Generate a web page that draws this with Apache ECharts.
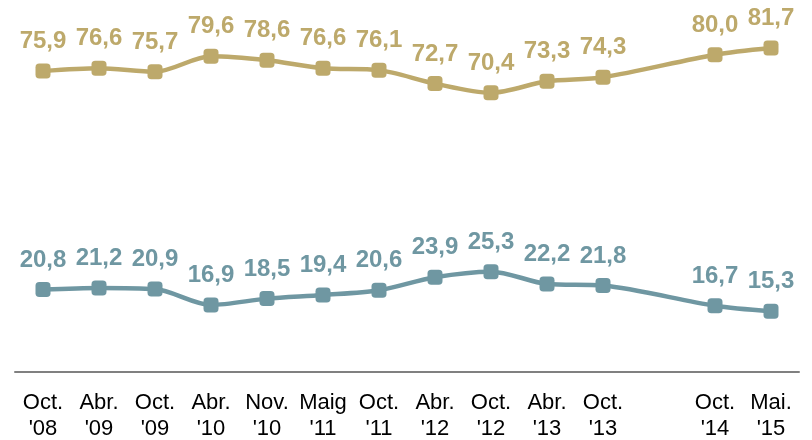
<!DOCTYPE html>
<html><head><meta charset="utf-8">
<script src="https://cdn.jsdelivr.net/npm/echarts@6/dist/echarts.min.js"></script>
<style>html,body{margin:0;padding:0;background:#fff}#c{width:812px;height:440px}</style>
</head><body><div id="c"></div>
<script>
const categories = ["Oct.\n'08","Abr.\n'09","Oct.\n'09","Abr.\n'10","Nov.\n'10","Maig\n'11","Oct.\n'11","Abr.\n'12","Oct.\n'12","Abr.\n'13","Oct.\n'13","","Oct.\n'14","Mai.\n'15"];
const goldValues = [75.9,76.6,75.7,79.6,78.6,76.6,76.1,72.7,70.4,73.3,74.3,null,80.0,81.7];
const blueValues = [20.8,21.2,20.9,16.9,18.5,19.4,20.6,23.9,25.3,22.2,21.8,null,16.7,15.3];
const gold = '#BDA96B', blue = '#6F97A2';
const chart = echarts.init(document.getElementById('c'));
function mk(name, data, color){
  return {
    name, type:'line', data, connectNulls:true, smooth:0.3,
    symbol:'roundRect', symbolSize:15,
    lineStyle:{color, width:4.5}, itemStyle:{color},
    label:{show:true, position:'top', distance:10, color, fontFamily:'Liberation Sans, Arial, sans-serif',
      fontWeight:'bold', fontSize:24, formatter:p=>p.value==null?'':p.value.toFixed(1).replace('.',',')}
  };
}
chart.setOption({
  animation:false,
  grid:{left:15, right:13, top:15, bottom:68, outerBoundsMode:'none', containLabel:false},
  xAxis:{type:'category', data:categories, boundaryGap:true,
    axisLine:{lineStyle:{color:'#808080', width:2}}, axisTick:{show:false},
    axisLabel:{color:'#000', fontFamily:'Liberation Sans, Arial, sans-serif', fontSize:22, lineHeight:26, margin:18, interval:0}},
  yAxis:{type:'value', min:0, max:90, show:false, splitLine:{show:false}},
  series:[mk('gold', goldValues, gold), mk('blue', blueValues, blue)]
});
</script></body></html>
